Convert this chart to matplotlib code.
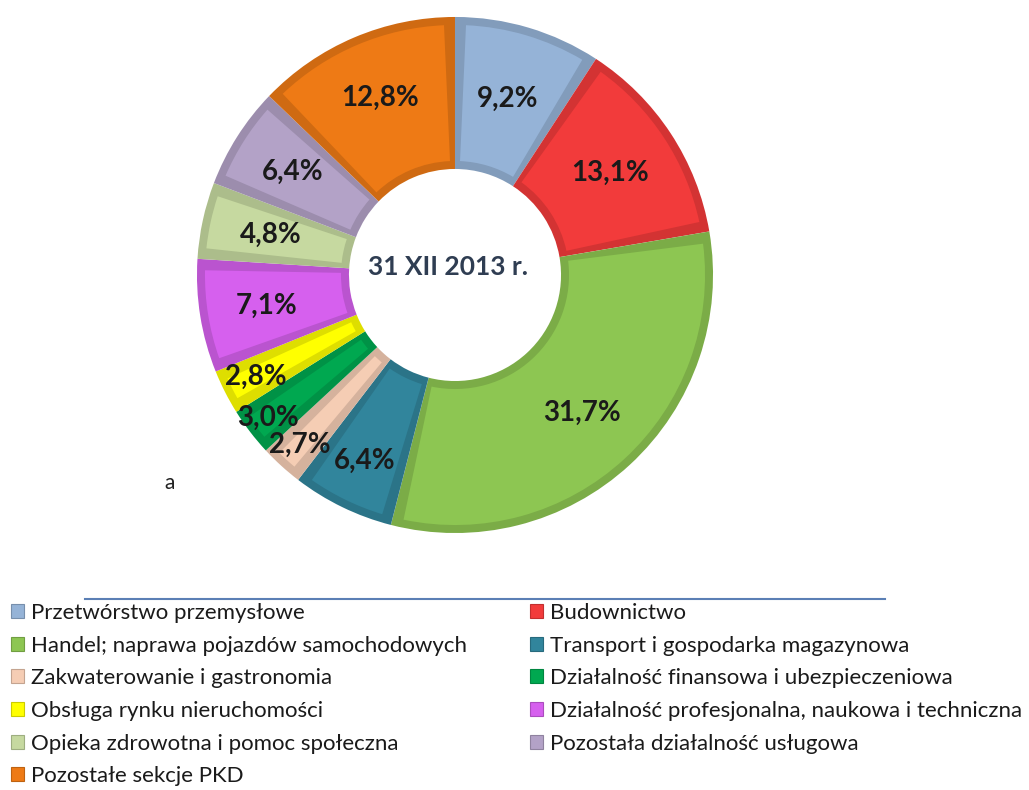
import numpy as np
import matplotlib
matplotlib.use('Agg')
import matplotlib.pyplot as plt
from matplotlib.patches import Wedge, Patch
from matplotlib import colors as mcolors

plt.rcParams['font.family'] = ['Lato', 'DejaVu Sans']

# dane: struktura wg sekcji PKD, 31 XII 2013 r.
sections = ['Przetwórstwo przemysłowe', 'Budownictwo',
            'Handel; naprawa pojazdów samochodowych', 'Transport i gospodarka magazynowa',
            'Zakwaterowanie i gastronomia', 'Działalność finansowa i ubezpieczeniowa',
            'Obsługa rynku nieruchomości', 'Działalność profesjonalna, naukowa i techniczna',
            'Opieka zdrowotna i pomoc społeczna', 'Pozostała działalność usługowa',
            'Pozostałe sekcje PKD']
shares = [9.2, 13.1, 31.7, 6.4, 2.7, 3.0, 2.8, 7.1, 4.8, 6.4, 12.8]
pct_labels = ['9,2%', '13,1%', '31,7%', '6,4%', '2,7%', '3,0%', '2,8%', '7,1%', '4,8%', '6,4%', '12,8%']
colors = ['#95B3D7', '#F23B3B', '#8DC652', '#31859C', '#F5CDB4', '#00A850',
          '#FFFF00', '#D660EE', '#C6D9A0', '#B3A2C7', '#EE7A15']

fig = plt.figure(figsize=(10.29, 7.9), dpi=100)
ax = fig.add_axes([0, 0, 1, 1])

cx, cy = 455, 790 - 275
R, W = 258, 152


def shade(c, f):
    r, g, b = mcolors.to_rgb(c)
    return (min(r * f, 1), min(g * f, 1), min(b * f, 1))


wedges, _ = ax.pie(shares, colors=[shade(c, 0.87) for c in colors], startangle=90,
                   counterclock=False, radius=R, center=(cx, cy),
                   explode=[0.03] * len(shares), wedgeprops=dict(width=W, linewidth=0))

# efekt fazowania - wewnętrzny klin w kolorze bazowym
b = 8
for w, c in zip(wedges, colors):
    rm = w.r - W / 2
    d = np.degrees(b / rm)
    ax.add_patch(Wedge(w.center, w.r - b, w.theta1 + d, w.theta2 - d, width=W - 2 * b,
                       facecolor=c, edgecolor='none'))

# etykiety procentowe
label_r = [184, 186, 188, 207, 230, 235, 224, 191, 189, 192, 192]
for w, lab, r in zip(wedges, pct_labels, label_r):
    a = np.radians((w.theta1 + w.theta2) / 2)
    ax.text(cx + r * np.cos(a), cy + r * np.sin(a), lab, ha='center', va='center',
            fontsize=20, fontweight='bold', color='#1a1a1a')

ax.text(448, 790 - 267, '31 XII 2013 r.', ha='center', va='center', fontsize=19,
        fontweight='bold', color='#2f3d52')
ax.text(170, 790 - 483, 'a', ha='center', va='center', fontsize=15, color='#222222')

ax.plot([85, 885], [790 - 599, 790 - 599], color='#5B7FB5', linewidth=1.5)

ax.set_xlim(0, 1029)
ax.set_ylim(0, 790)
ax.axis('off')

handles = [Patch(facecolor=c, edgecolor=shade(c, 0.8), linewidth=0.8) for c in colors]
left = list(range(0, len(sections), 2))
right = list(range(1, len(sections), 2))
for idx, x0 in ((left, 2), (right, 521)):
    fig.legend([handles[i] for i in idx], [sections[i] for i in idx], loc='upper left',
               bbox_to_anchor=(x0 / 1029, 1 - 594 / 790), frameon=False, fontsize=16,
               handlelength=0.6, handleheight=0.6, handletextpad=0.3, labelspacing=0.57,
               borderaxespad=0, labelcolor='#1a1a1a')

fig.savefig('out.png', dpi=100)
